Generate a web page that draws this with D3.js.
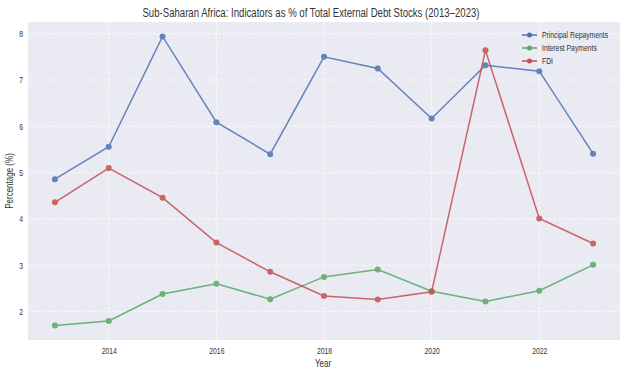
<!DOCTYPE html>
<html><head><meta charset="utf-8">
<script src="https://cdn.jsdelivr.net/npm/d3@7"></script>
<style>body{margin:0;background:#fff}svg{display:block}text{font-family:"Liberation Sans Narrow","Liberation Sans",Arial,sans-serif}</style>
</head><body>
<svg id="chart" width="629" height="379"></svg>
<script>
const years = [2013,2014,2015,2016,2017,2018,2019,2020,2021,2022,2023];
const principal = [4.86,5.56,7.94,6.09,5.40,7.50,7.25,6.17,7.32,7.19,5.41];
const interest = [1.70,1.80,2.38,2.60,2.27,2.75,2.91,2.44,2.22,2.45,3.01];
const fdi = [4.36,5.10,4.46,3.49,2.86,2.34,2.26,2.43,7.64,4.01,3.47];
const seriesNames = ["Principal Repayments","Interest Payments","FDI"];
const seriesColors = ["#4C72B0","#55A868","#C44E52"];
const xTicks = [2014,2016,2018,2020,2022];
const yTicks = [2,3,4,5,6,7,8];

const svg = d3.select("#chart");
const m = {l:28, t:22, r:620, b:340};
const x = d3.scaleLinear().domain([2012.5,2023.5]).range([m.l,m.r]);
const y = d3.scaleLinear().domain([1.388,8.252]).range([m.b,m.t]);

svg.append("rect").attr("x",m.l).attr("y",m.t).attr("width",m.r-m.l).attr("height",m.b-m.t).attr("fill","#EAEAF2");

const gx = svg.append("g").attr("transform",`translate(0,${m.b})`)
  .call(d3.axisBottom(x).tickValues(xTicks).tickFormat(d3.format("d")).tickSize(0).tickPadding(8));
const gy = svg.append("g").attr("transform",`translate(${m.l},0)`)
  .call(d3.axisLeft(y).tickValues(yTicks).tickFormat(d3.format("d")).tickSize(0).tickPadding(5));
[gx,gy].forEach(g=>{g.select(".domain").remove();g.selectAll("text").attr("font-size",8.5).attr("fill","#333").style("font-family",'"Liberation Sans",sans-serif');});

// grid
svg.append("g").selectAll("line").data(xTicks).join("line")
  .attr("x1",d=>x(d)).attr("x2",d=>x(d)).attr("y1",m.t).attr("y2",m.b)
  .attr("stroke","#fff").attr("stroke-width",0.8).attr("stroke-dasharray","3,2");
svg.append("g").selectAll("line").data(yTicks).join("line")
  .attr("x1",m.l).attr("x2",m.r).attr("y1",d=>y(d)).attr("y2",d=>y(d))
  .attr("stroke","#fff").attr("stroke-width",0.8).attr("stroke-dasharray","3,2");

const allSeries = [principal, interest, fdi];
const line = d3.line().x((d,i)=>x(years[i])).y(d=>y(d));
allSeries.forEach((s,k)=>{
  const g = svg.append("g").attr("opacity",0.85);
  g.append("path").attr("d",line(s)).attr("fill","none").attr("stroke",seriesColors[k]).attr("stroke-width",1.5);
  g.selectAll("circle").data(s).join("circle").attr("cx",(d,i)=>x(years[i])).attr("cy",d=>y(d)).attr("r",3).attr("fill",seriesColors[k]);
});

// legend
const lg = svg.append("g");
seriesNames.forEach((n,k)=>{
  const yy = 35 + k*13;
  lg.append("line").attr("x1",522).attr("x2",537).attr("y1",yy).attr("y2",yy).attr("stroke",seriesColors[k]).attr("stroke-width",1.5);
  lg.append("circle").attr("cx",529.5).attr("cy",yy).attr("r",2.5).attr("fill",seriesColors[k]);
  lg.append("text").attr("x",542).attr("y",yy).attr("dy","0.35em").attr("font-size",8.5).attr("fill","#333").text(n);
});

svg.append("text").attr("x",311).attr("y",17).attr("text-anchor","middle").attr("font-size",12).attr("fill","#333")
  .text("Sub-Saharan Africa: Indicators as % of Total External Debt Stocks (2013–2023)");
svg.append("text").attr("x",323).attr("y",367).attr("text-anchor","middle").attr("font-size",10).attr("fill","#333").text("Year");
svg.append("text").attr("transform","translate(13,181) rotate(-90)").attr("text-anchor","middle").attr("font-size",10).attr("fill","#333").text("Percentage (%)");

// condense all text to mimic narrow font
svg.selectAll("text").each(function(){
  const L = this.getComputedTextLength();
  if (L>0) d3.select(this).attr("textLength", L*0.8).attr("lengthAdjust","spacingAndGlyphs");
});
</script>
</body></html>
